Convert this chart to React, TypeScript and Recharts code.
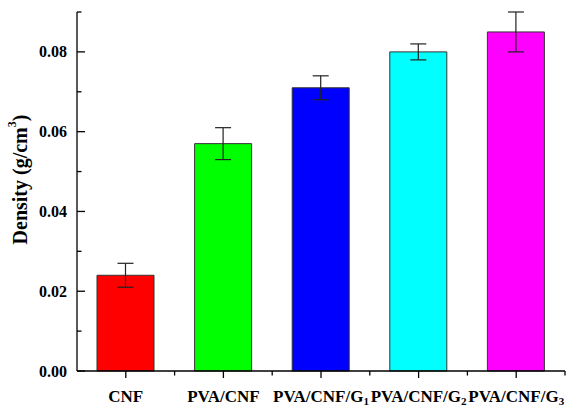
import React from "react";
import { BarChart, Bar, XAxis, YAxis, Cell, ErrorBar } from "recharts";

// values
const categories = ["CNF", "PVA/CNF", "PVA/CNF/G1", "PVA/CNF/G2", "PVA/CNF/G3"];
const density = [0.024, 0.057, 0.071, 0.08, 0.085];
const densityErr = [0.003, 0.004, 0.003, 0.002, 0.005];
const barColors = ["#ff0000", "#00ff00", "#0000ff", "#00ffff", "#ff00ff"];
const yTicks = [0, 0.01, 0.02, 0.03, 0.04, 0.05, 0.06, 0.07, 0.08, 0.09];
const yMajor = [0, 0.02, 0.04, 0.06, 0.08];

const data = categories.map((name, i) => ({
  name,
  density: density[i],
  err: densityErr[i],
}));

const FONT = "'Liberation Serif', 'Times New Roman', serif";

function YTick(props: any) {
  const { x, y, payload } = props;
  const major = yMajor.some((v) => Math.abs(v - payload.value) < 1e-9);
  return (
    <g>
      <line x1={x} x2={x + (major ? 8 : 4.5)} y1={y} y2={y} stroke="#000" strokeWidth={1.3} />
      {major && (
        <text
          x={x - 10}
          y={y}
          dy="0.35em"
          textAnchor="end"
          fontFamily={FONT}
          fontWeight="bold"
          fontSize={16}
          fill="#000"
        >
          {payload.value.toFixed(2)}
        </text>
      )}
    </g>
  );
}

function XTick(props: any) {
  const { x, y, payload } = props;
  const half = payload.offset || 48.8;
  const m = /^(.*G)(\d)$/.exec(payload.value);
  return (
    <g>
      <line x1={x} x2={x} y1={y} y2={y + 7} stroke="#000" strokeWidth={1.3} />
      <line x1={x + half} x2={x + half} y1={y} y2={y + 4.5} stroke="#000" strokeWidth={1.3} />
      <text
        x={x}
        y={y + 31}
        textAnchor="middle"
        fontFamily={FONT}
        fontWeight="bold"
        fontSize={17}
        fill="#000"
      >
        {m ? (
          <>
            {m[1]}
            <tspan fontSize={11} dy={3}>
              {m[2]}
            </tspan>
          </>
        ) : (
          payload.value
        )}
      </text>
    </g>
  );
}

function YLabel(props: any) {
  const { viewBox } = props;
  const cx = 20;
  const cy = viewBox.y + viewBox.height / 2 - 12;
  return (
    <text
      x={cx}
      y={cy}
      transform={`rotate(-90, ${cx}, ${cy})`}
      textAnchor="middle"
      dominantBaseline="central"
      fontFamily={FONT}
      fontWeight="bold"
      fontSize={20}
      fill="#000"
    >
      Density (g/cm
      <tspan fontSize={12} dy={-8}>
        3
      </tspan>
      <tspan dy={8}>)</tspan>
    </text>
  );
}

export default function App() {
  return (
    <div style={{ position: "absolute", left: 0, top: 0, background: "#fff" }}>
      <BarChart
        width={570}
        height={409}
        data={data}
        margin={{ top: 12, right: 5, bottom: 0, left: 0 }}
        barSize={57}
      >
        <XAxis
          dataKey="name"
          height={38}
          tickSize={0}
          tickMargin={0}
          interval={0}
          tick={<XTick />}
          axisLine={{ stroke: "#000", strokeWidth: 1.3 }}
          tickLine={false}
        />
        <YAxis
          width={77}
          domain={[0, 0.09]}
          ticks={yTicks}
          interval={0}
          tickSize={0}
          tickMargin={0}
          tick={<YTick />}
          axisLine={{ stroke: "#000", strokeWidth: 1.3 }}
          tickLine={false}
          label={<YLabel />}
        />
        <Bar dataKey="density" stroke="#333" strokeWidth={1} isAnimationActive={false}>
          {data.map((d, i) => (
            <Cell key={d.name} fill={barColors[i]} />
          ))}
          <ErrorBar dataKey="err" width={8} stroke="#222" strokeWidth={1.2} />
        </Bar>
      </BarChart>
    </div>
  );
}
